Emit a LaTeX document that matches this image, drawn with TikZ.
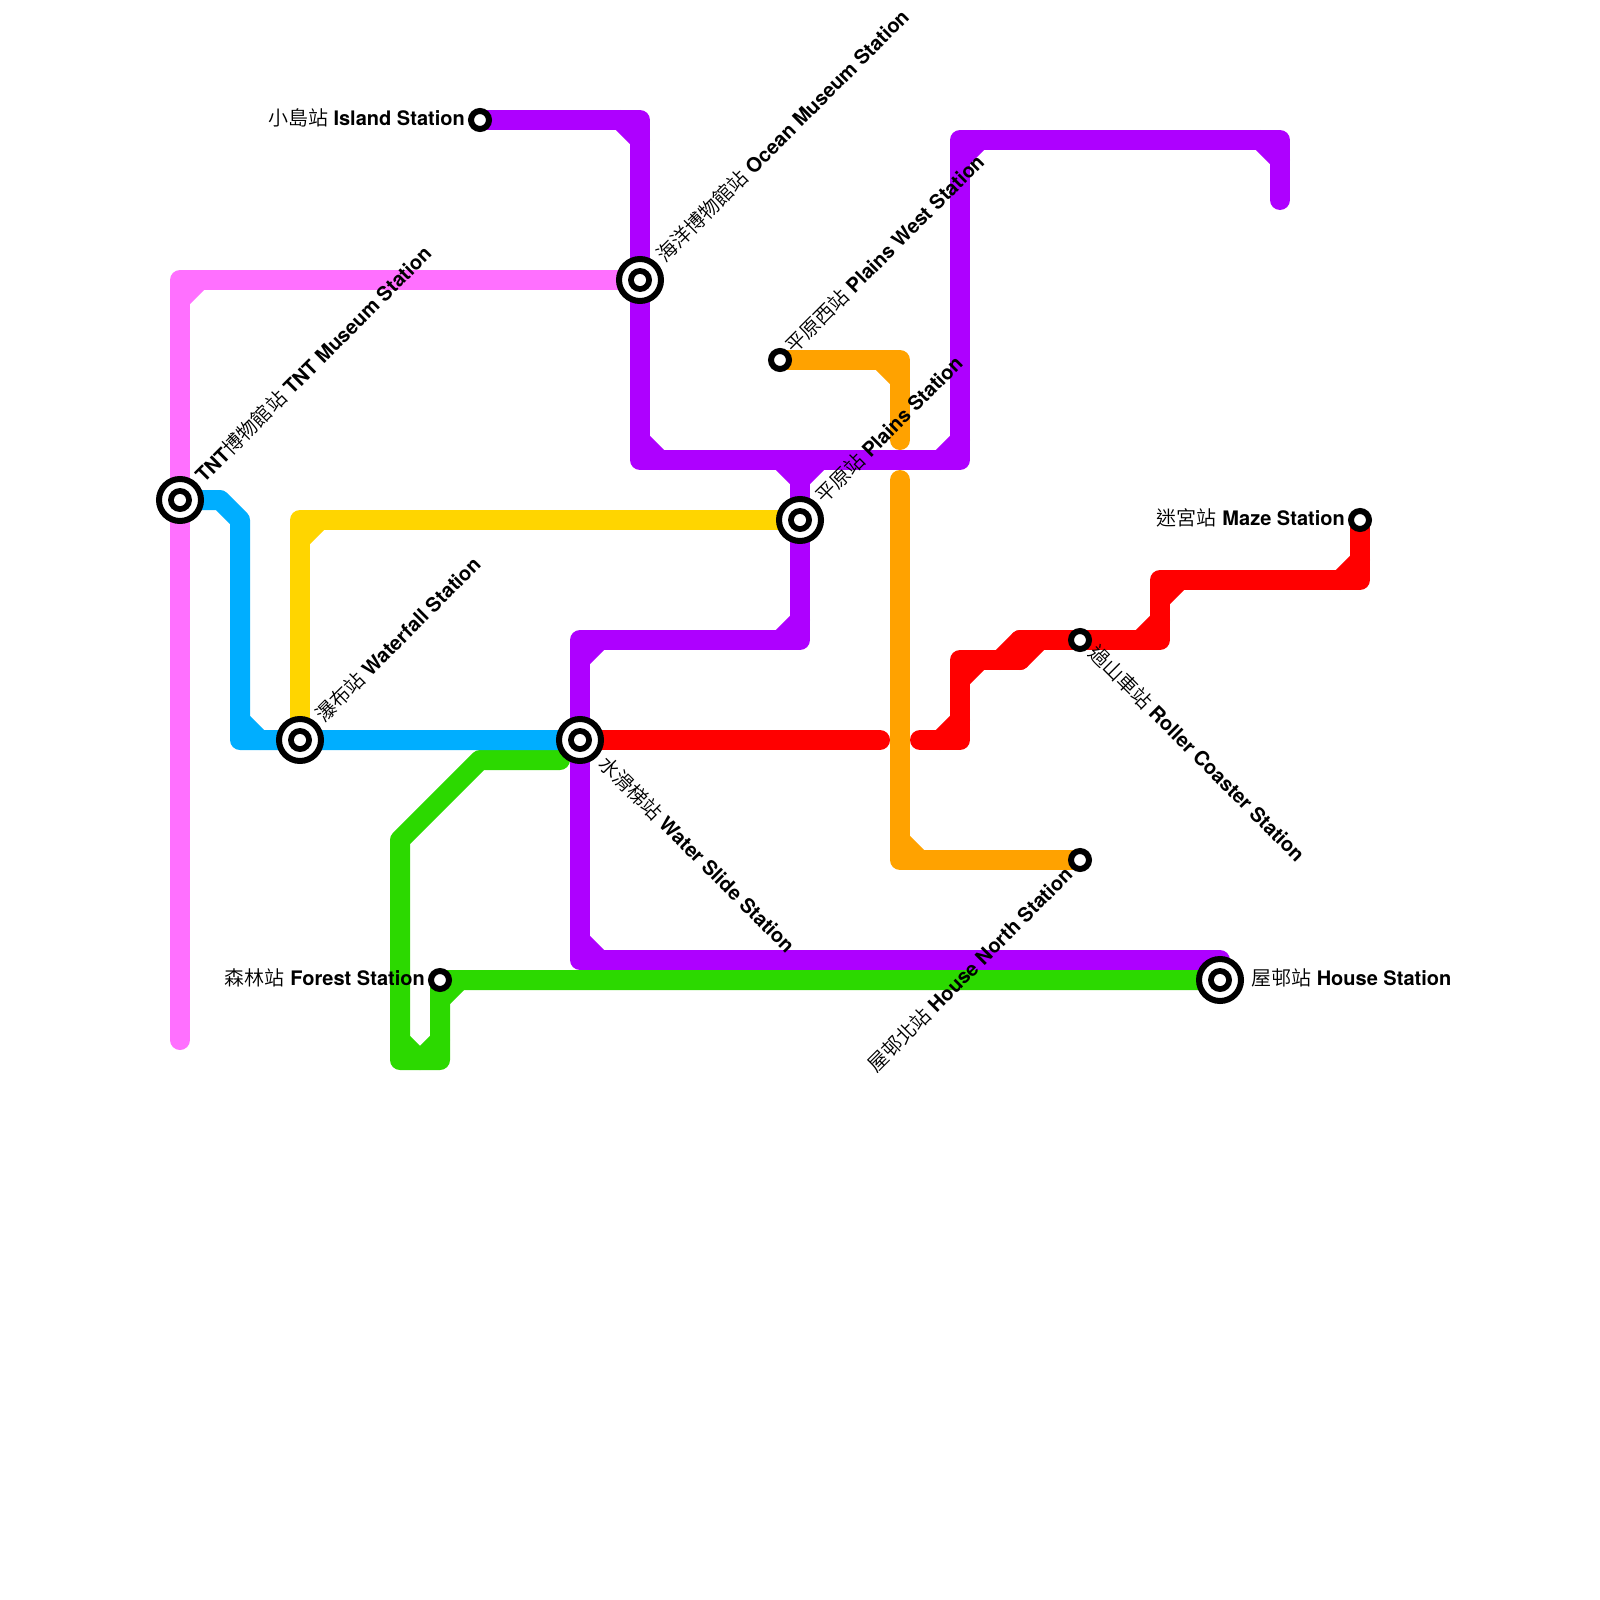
\documentclass[tikz,border=0pt]{standalone}
\usepackage{fontspec}
\setmainfont{TeX Gyre Heros}
\newfontfamily\cjk{Noto Sans CJK TC DemiLight}
\usetikzlibrary{backgrounds}
\definecolor{pinkline}{HTML}{FF70FF}
\definecolor{blueline}{HTML}{00AEFF}
\definecolor{yellowline}{HTML}{FFD500}
\definecolor{purpleline}{HTML}{AE00FF}
\definecolor{orangeline}{HTML}{FFA200}
\definecolor{redline}{HTML}{FF0000}
\definecolor{greenline}{HTML}{2CD900}
\tikzset{
  route/.style={line width=20pt,line join=round,line cap=round},
  smallstn/.style={circle,draw=black,fill=white,line width=6pt,minimum size=18pt,inner sep=0pt},
  bigstn/.style={circle,draw=black,fill=white,line width=6pt,minimum size=42pt,inner sep=0pt,
    path picture={\fill[black] (path picture bounding box.center) circle (12pt);
      \fill[white] (path picture bounding box.center) circle (6pt);}},
  stnlabel/.style={font=\fontsize{20pt}{24pt}\selectfont,inner sep=0pt,text=black},
}
\newcommand{\stnname}[2]{{\cjk #1} \textbf{#2}}
\newcommand{\chamfer}[4]{\draw[route,#1] ([xshift=#3pt]#2) -- ([yshift=#4pt]#2);}
\begin{document}
\begin{tikzpicture}[x=1pt,y=-1pt]
  \useasboundingbox (0,0) rectangle (1600,1600);
  \node[bigstn] (tnt) at (180,500) {};
  \node[bigstn] (waterfall) at (300,740) {};
  \node[bigstn] (slide) at (580,740) {};
  \node[bigstn] (ocean) at (640,280) {};
  \node[bigstn] (plains) at (800,520) {};
  \node[bigstn] (house) at (1220,980) {};
  \node[smallstn] (island) at (480,120) {};
  \node[smallstn] (west) at (780,360) {};
  \node[smallstn] (maze) at (1360,520) {};
  \node[smallstn] (coaster) at (1080,640) {};
  \node[smallstn] (north) at (1080,860) {};
  \node[smallstn] (forest) at (440,980) {};

  \node[stnlabel,rotate=45,anchor=base west] (tntname) at (204,484) {\textbf{TNT}{\cjk 博物館站} \textbf{TNT Museum Station}};
  \node[stnlabel,rotate=45,anchor=base west] (waterfallname) at (324,724) {\stnname{瀑布站}{Waterfall Station}};
  \node[stnlabel,rotate=-45,anchor=base west] (slidename) at (597,765) {\stnname{水滑梯站}{Water Slide Station}};
  \node[stnlabel,rotate=45,anchor=base west] (oceanname) at (665,264) {\stnname{海洋博物館站}{Ocean Museum Station}};
  \node[stnlabel,rotate=45,anchor=base west] (plainsname) at (824,505) {\stnname{平原站}{Plains Station}};
  \node[stnlabel,anchor=base west] (housename) at (1251,985) {\stnname{屋邨站}{House Station}};
  \node[stnlabel,anchor=base east] (islandname) at (465,125) {\stnname{小島站}{Island Station}};
  \node[stnlabel,rotate=45,anchor=base west] (westname) at (794,355) {\stnname{平原西站}{Plains West Station}};
  \node[stnlabel,anchor=base east] (mazename) at (1345,525) {\stnname{迷宮站}{Maze Station}};
  \node[stnlabel,rotate=-45,anchor=base west] (coastername) at (1087,654) {\stnname{過山車站}{Roller Coaster Station}};
  \node[stnlabel,rotate=45,anchor=base east] (northname) at (1074,876) {\stnname{屋邨北站}{House North Station}};
  \node[stnlabel,anchor=base east] (forestname) at (425,985) {\stnname{森林站}{Forest Station}};

  \coordinate (pinkend) at (180,1040);
  \coordinate (pinktop) at (180,280);
  \coordinate (bluea) at (220,500);
  \coordinate (blueb) at (240,520);
  \coordinate (bluec) at (240,740);
  \coordinate (yellowc) at (300,520);
  \coordinate (pa) at (640,120);
  \coordinate (pb) at (640,460);
  \coordinate (pc) at (960,460);
  \coordinate (pd) at (960,140);
  \coordinate (pe) at (1280,140);
  \coordinate (pend) at (1280,200);
  \coordinate (pf) at (800,460);
  \coordinate (pg) at (800,640);
  \coordinate (ph) at (580,640);
  \coordinate (pi) at (580,960);
  \coordinate (pj) at (1220,960);
  \coordinate (oa) at (900,360);
  \coordinate (oend) at (900,440);
  \coordinate (ostart) at (900,480);
  \coordinate (ob) at (900,860);
  \coordinate (rend) at (880,740);
  \coordinate (rstart) at (920,740);
  \coordinate (ra) at (960,740);
  \coordinate (rb) at (960,660);
  \coordinate (rc) at (1020,660);
  \coordinate (rd) at (1020,640);
  \coordinate (rh) at (1040,640);
  \coordinate (re) at (1160,640);
  \coordinate (rf) at (1160,580);
  \coordinate (rg) at (1360,580);
  \coordinate (ga) at (560,740);
  \coordinate (gb) at (560,760);
  \coordinate (gc) at (480,760);
  \coordinate (gd) at (400,840);
  \coordinate (ge) at (400,1060);
  \coordinate (gf) at (440,1060);

  \begin{scope}[on background layer]
    \draw[route,greenline] (slide.center) -- (ga) -- (gb) -- (gc) -- (gd) -- (ge) -- (gf) -- (forest.center) -- (house.center);
    \chamfer{greenline}{ge}{20}{20}
    \chamfer{greenline}{gf}{-20}{20}
    \chamfer{greenline}{forest.center}{20}{-20}
    \draw[route,pinkline] (pinkend) -- (tnt.center) -- (pinktop) -- (ocean.center);
    \chamfer{pinkline}{pinktop}{20}{-20}
    \draw[route,blueline] (tnt.center) -- (bluea) -- (blueb) -- (bluec) -- (waterfall.center) -- (slide.center);
    \chamfer{blueline}{bluec}{20}{20}
    \draw[route,yellowline] (waterfall.center) |- (plains.center);
    \chamfer{yellowline}{yellowc}{20}{-20}
    \draw[route,purpleline] (island.center) -- (pa) -- (ocean.center) -- (pb) -- (pc) -- (pd) -- (pe) -- (pend);
    \chamfer{purpleline}{pa}{-20}{-20}
    \chamfer{purpleline}{pb}{20}{20}
    \chamfer{purpleline}{pc}{-20}{20}
    \chamfer{purpleline}{pd}{20}{-20}
    \chamfer{purpleline}{pe}{-20}{-20}
    \draw[route,purpleline] (pf) -- (plains.center) -- (pg) -- (ph) -- (slide.center) -- (pi) -- (pj) -- (house.center);
    \chamfer{purpleline}{pf}{-20}{-20}
    \chamfer{purpleline}{pf}{20}{-20}
    \chamfer{purpleline}{pg}{-20}{20}
    \chamfer{purpleline}{ph}{20}{-20}
    \chamfer{purpleline}{pi}{20}{20}
    \draw[route,orangeline] (west.center) -- (oa) -- (oend);
    \chamfer{orangeline}{oa}{-20}{-20}
    \draw[route,orangeline] (ostart) -- (ob) -- (north.center);
    \chamfer{orangeline}{ob}{20}{20}
    \draw[route,redline] (slide.center) -- (rend);
    \draw[route,redline] (rstart) -- (ra) -- (rb) -- (rc) -- (rd) -- (coaster.center) -- (re) -- (rf) -- (rg) -- (maze.center);
    \draw[route,redline] (rc) -- (rh);
    \chamfer{redline}{ra}{-20}{20}
    \chamfer{redline}{rb}{20}{-20}
    \chamfer{redline}{rc}{-20}{20}
    \chamfer{redline}{re}{-20}{20}
    \chamfer{redline}{rf}{20}{-20}
    \chamfer{redline}{rg}{-20}{20}
  \end{scope}
\end{tikzpicture}
\end{document}
